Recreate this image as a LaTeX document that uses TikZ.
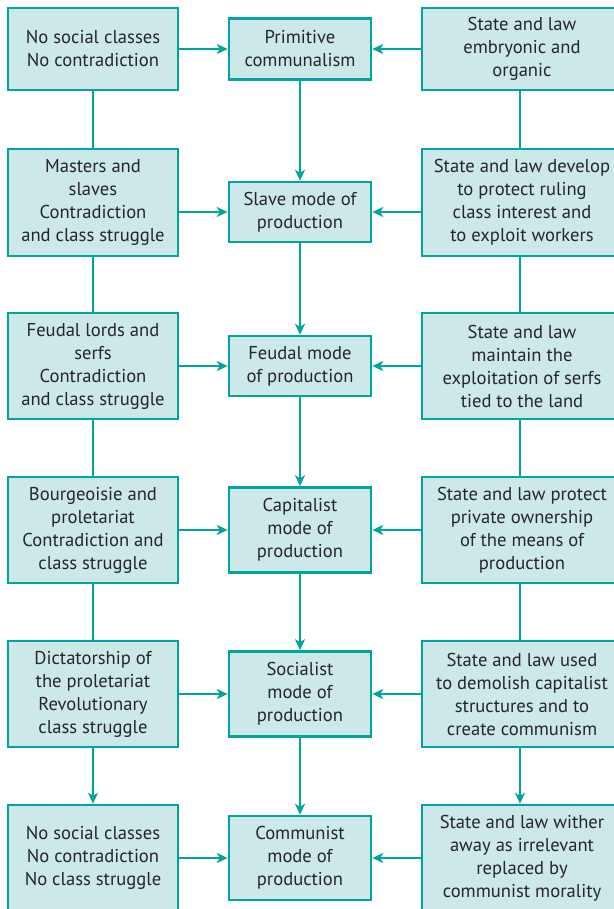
\documentclass[tikz,border=0pt]{standalone}
\usepackage{fontspec}
\setmainfont{PT Sans}
\usetikzlibrary{arrows.meta}
\definecolor{tealb}{RGB}{0,166,157}
\definecolor{tealf}{RGB}{204,232,232}
\begin{document}
\begin{tikzpicture}[x=1pt,y=-1pt,
  box/.style={draw=tealb,fill=tealf,line width=2.5pt,inner sep=0pt,align=center,
    font=\fontsize{18.6}{23}\selectfont,text=black!85},
  lbox/.style={box,minimum width=170pt},
  cbox/.style={box,minimum width=142pt},
  rbox/.style={box,minimum width=200pt},
  conn/.style={draw=tealb,line width=2.5pt},
  arr/.style={conn,-{Stealth[length=11pt,width=10pt,inset=3pt]}}]
\useasboundingbox (0,0) rectangle (613,909);
% left column
\node[lbox,minimum height=82pt]  (l1) at (93,49)  {No social classes\\No contradiction};
\node[lbox,minimum height=107pt] (l2) at (93,202.5) {Masters and\\slaves\\Contradiction\\and class struggle};
\node[lbox,minimum height=106pt] (l3) at (93,366) {Feudal lords and\\serfs\\Contradiction\\and class struggle};
\node[lbox,minimum height=106pt] (l4) at (93,530) {Bourgeoisie and\\proletariat\\Contradiction and\\class struggle};
\node[lbox,minimum height=106pt] (l5) at (93,694) {Dictatorship of\\the proletariat\\Revolutionary\\class struggle};
\node[lbox,minimum height=106pt] (l6) at (93,858) {No social classes\\No contradiction\\No class struggle};
% centre column
\node[cbox,minimum height=61pt] (c1) at (300,49)  {Primitive\\communalism};
\node[cbox,minimum height=60pt] (c2) at (300,212) {Slave mode of\\production};
\node[cbox,minimum height=60pt] (c3) at (300,366) {Feudal mode\\of production};
\node[cbox,minimum height=85pt] (c4) at (300,530) {Capitalist\\mode of\\production};
\node[cbox,minimum height=85pt] (c5) at (300,694) {Socialist\\mode of\\production};
\node[cbox,minimum height=84pt] (c6) at (300,858) {Communist\\mode of\\production};
% right column
\node[rbox,minimum height=82pt]  (r1) at (522,49)  {State and law\\embryonic and\\organic};
\node[rbox,minimum height=107pt] (r2) at (522,202.5) {State and law develop\\to protect ruling\\class interest and\\to exploit workers};
\node[rbox,minimum height=106pt] (r3) at (522,366) {State and law\\maintain the\\exploitation of serfs\\tied to the land};
\node[rbox,minimum height=106pt] (r4) at (522,530) {State and law protect\\private ownership\\of the means of\\production};
\node[rbox,minimum height=106pt] (r5) at (522,694) {State and law used\\to demolish capitalist\\structures and to\\create communism};
\node[rbox,minimum height=106pt] (r6) at (522,858) {State and law wither\\away as irrelevant\\replaced by\\communist morality};
% horizontal arrows
\foreach \i in {1,...,6}{
  \draw[arr] (c\i -| l\i.east) -- (c\i.west);
  \draw[arr] (c\i -| r\i.west) -- (c\i.east);
}
% vertical connectors
\foreach \i/\j in {1/2,2/3,3/4,4/5}{
  \draw[conn] (l\i) -- (l\j);
  \draw[conn] (r\i.south -| 520,0) -- (r\j.north -| 520,0);
}
\foreach \i/\j in {1/2,2/3,3/4,4/5,5/6}{
  \draw[arr] (c\i) -- (c\j);
}
\draw[arr] (l5) -- (l6);
\draw[arr] (r5.south -| 520,0) -- (r6.north -| 520,0);
\end{tikzpicture}
\end{document}
